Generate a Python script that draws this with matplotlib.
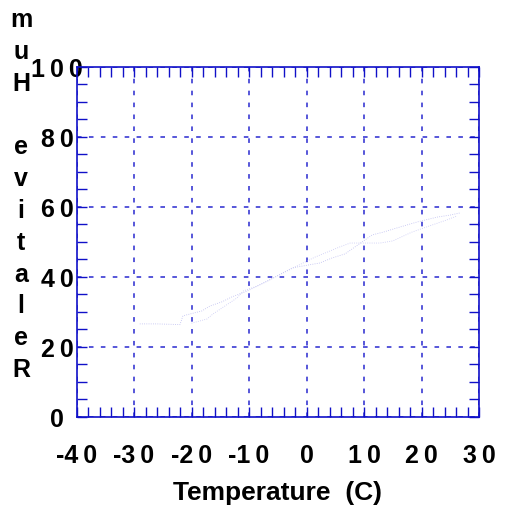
import matplotlib.pyplot as plt
from matplotlib.ticker import MultipleLocator

# humidity trace vs temperature (two passes of the logger)
temp_a = [-29, -26, -24, -22, -21.5, -18.2, -16.8, -14.7, -13, -10.3, -6.7, -2.5, 2.3, 4.4, 6.7, 11.4, 13.3, 16.3, 19.2, 22.7, 25, 26.7]
hum_a = [26.6, 26.6, 26.5, 26.4, 28.9, 30.3, 31.7, 32.9, 34.3, 36.0, 38.9, 42.6, 44.0, 45.4, 46.6, 52.0, 52.8, 54.3, 55.7, 57.1, 57.7, 58.3]
temp_b = [-20, -17.3, -16.3, -12.1, -11, -8.6, -0.6, 1.5, 3.6, 5.8, 7.6, 12.8, 15, 18.3, 21.4, 24.4, 26.1]
hum_b = [26.8, 28.0, 29.4, 34.0, 36.0, 37.4, 44.0, 45.7, 47.1, 48.6, 49.7, 49.7, 50.3, 52.8, 54.6, 56.3, 57.4]

x_ticks = [-40, -30, -20, -10, 0, 10, 20, 30]
y_ticks = [0, 20, 40, 60, 80, 100]
x_title = 'Temperature  (C)'
y_title = 'Relative Hum'

blue = '#1010c8'
plt.rcParams['font.family'] = ['Liberation Sans', 'DejaVu Sans']
plt.rcParams['font.weight'] = 'bold'
plt.rcParams['axes.labelweight'] = 'bold'


def spaced(v):
    s = str(v)
    if s.startswith('-'):
        return '-' + '\u2009'.join(s[1:])
    return '\u2009'.join(s)


fig = plt.figure(figsize=(5.07, 5.10), dpi=100)
ax = fig.add_axes([0.1509, 0.1804, 0.7939, 0.6863])

ax.plot(temp_a, hum_a, linestyle=':', linewidth=0.6, color='#bcbcf0')
ax.plot(temp_b, hum_b, linestyle=':', linewidth=0.6, color='#c8c8f4')

ax.set_xlim(-40, 30)
ax.set_ylim(0, 100)
ax.set_xticks(x_ticks)
ax.set_yticks(y_ticks)
ax.set_xticklabels([spaced(v) for v in x_ticks])
ax.set_yticklabels([spaced(v) for v in y_ticks], ha='center')
ax.xaxis.set_minor_locator(MultipleLocator(2))
ax.yaxis.set_minor_locator(MultipleLocator(5))

ax.tick_params(which='both', direction='in', top=True, right=True,
               length=7, width=1, color=blue, labelsize=18)
ax.tick_params(axis='x', pad=19)
ax.tick_params(axis='y', pad=14)

ax.grid(True, which='major', color='#2828d0', linewidth=1.1, linestyle=(0, (3, 4.8)))
for sp in ax.spines.values():
    sp.set_color(blue)
    sp.set_linewidth(1.2)

ax.set_xlabel(x_title, fontsize=19, labelpad=9)

# vertical axis title, stacked one character per row from the bottom up
for i, ch in enumerate(y_title):
    fig.text(21 / 507, 1 - (370 - i * 31.8) / 510, ch, fontsize=18,
             ha='center', va='center')

fig.savefig('out.png', dpi=100)
